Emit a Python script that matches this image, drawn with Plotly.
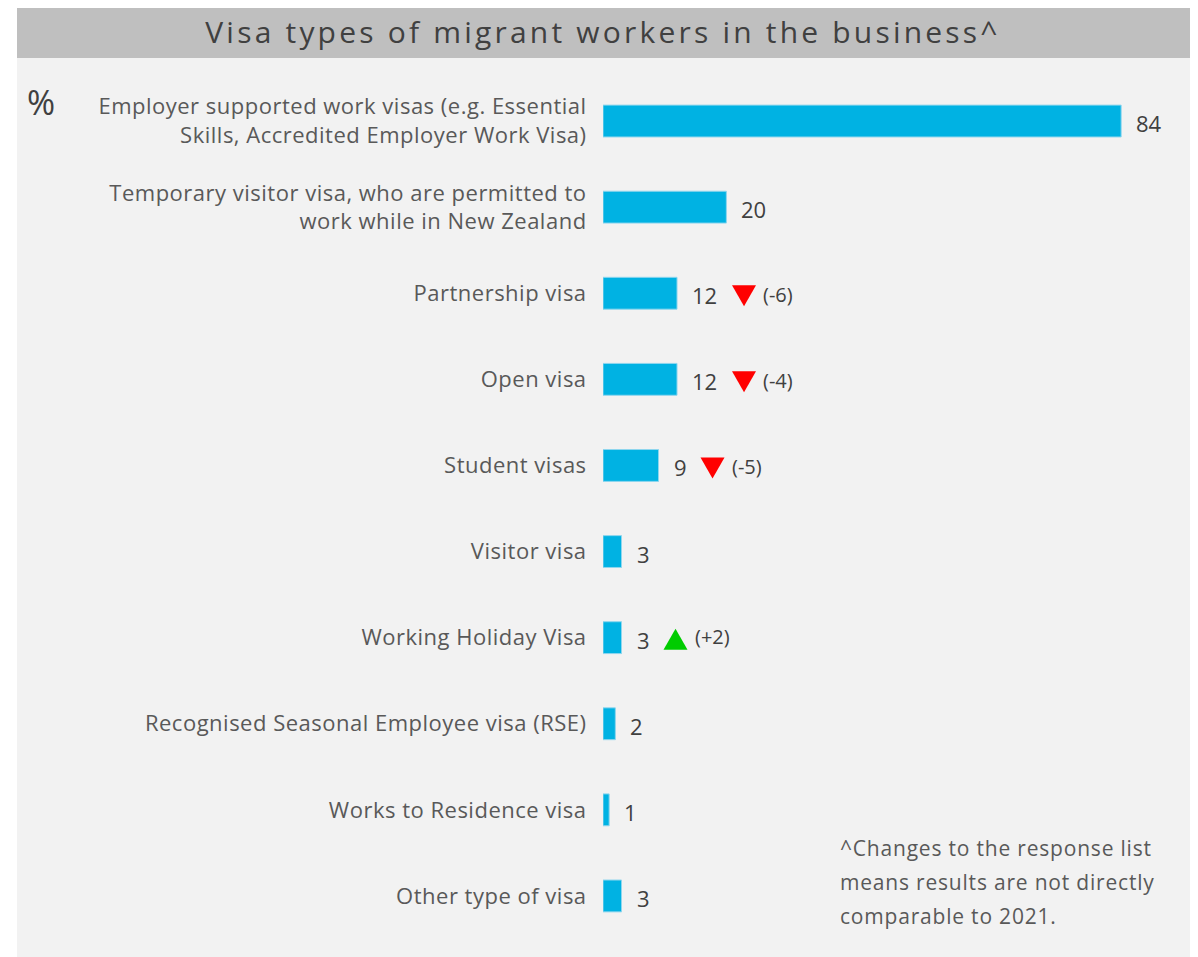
import plotly.graph_objects as go

# data
categories = [
    "Employer supported work visas (e.g. Essential<br>Skills, Accredited Employer Work Visa)",
    "Temporary visitor visa, who are permitted to<br>work while in New Zealand",
    "Partnership visa",
    "Open visa",
    "Student visas",
    "Visitor visa",
    "Working Holiday Visa",
    "Recognised Seasonal Employee visa (RSE)",
    "Works to Residence visa",
    "Other type of visa",
]
values = [84, 20, 12, 12, 9, 3, 3, 2, 1, 3]
changes = [None, None, -6, -4, -5, None, 2, None, None, None]

title_text = "Visa types of migrant workers in the business^"
footnote = [
    "^Changes to the response list",
    "means results are not directly",
    "comparable to 2021.",
]

FONT = "'Open Sans', sans-serif"
BAR = "#00B2E3"
TEXT = "#404040"
LABEL = "#595959"

# the page puts the figure 8px in from the top-left corner
W, H = 1190, 949


def spaced(s, px):
    return "<br>".join(
        f"<span style='letter-spacing:{px}px'>{part}</span>" for part in s.split("<br>")
    )


fig = go.Figure()

fig.add_trace(go.Bar(
    x=values,
    y=categories,
    orientation="h",
    width=0.37,
    marker=dict(color=BAR, line=dict(color="#8fd6ee", width=1)),
    hoverinfo="x",
))

annotations = []
shapes = [
    # grey panel + title band
    dict(type="rect", xref="paper", yref="paper",
         x0=-1.0, x1=1.0068, y0=-0.03, y1=1.2,
         fillcolor="#f2f2f2", line_width=0, layer="below"),
    dict(type="rect", xref="paper", yref="paper",
         x0=-1.0, x1=1.0068, y0=1.0232, y1=1.2,
         fillcolor="#bfbfbf", line_width=0, layer="below"),
]

for cat, v, ch in zip(categories, values, changes):
    annotations.append(dict(
        x=v, y=cat, xref="x", yref="y",
        text=str(v), showarrow=False,
        xanchor="left", yanchor="middle", xshift=13, yshift=-2,
        font=dict(family=FONT, size=22, color=TEXT),
    ))
    if ch is None:
        continue
    tri_x = 15 + 13 * len(str(v)) + 14
    if ch < 0:
        path = f"M{tri_x},8 L{tri_x + 24},8 L{tri_x + 12},-13 Z"
        col = "#ff0000"
    else:
        path = f"M{tri_x},-12 L{tri_x + 24},-12 L{tri_x + 12},9 Z"
        col = "#00cc00"
    shapes.append(dict(
        type="path", xref="x", yref="y",
        xsizemode="pixel", ysizemode="pixel",
        xanchor=v, yanchor=cat, path=path,
        fillcolor=col, line_width=0, layer="above",
    ))
    annotations.append(dict(
        x=v, y=cat, xref="x", yref="y",
        text=f"({ch:+d})", showarrow=False,
        xanchor="left", yanchor="middle", xshift=tri_x + 29, yshift=1 if ch > 0 else -1,
        font=dict(family=FONT, size=20, color=TEXT),
    ))

annotations.append(dict(
    x=-0.959, y=0.972, xref="paper", yref="paper",
    text="%", showarrow=False, xanchor="center", yanchor="middle",
    font=dict(family=FONT, size=34, color=TEXT),
))

for i, line in enumerate(footnote):
    annotations.append(dict(
        x=0.401, y=0.1057, xref="paper", yref="paper",
        text=spaced(line, 0.8), showarrow=False, xanchor="left", yanchor="middle",
        yshift=-34 * i,
        font=dict(family=FONT, size=21, color=LABEL),
    ))

fig.update_layout(
    width=W,
    height=H,
    margin=dict(l=595, r=9, t=70, b=18),
    paper_bgcolor="white",
    plot_bgcolor="#f2f2f2",
    showlegend=False,
    title=dict(
        text=spaced(title_text, 3.2),
        x=0.5, y=1 - 24 / H, xanchor="center", yanchor="middle",
        font=dict(family=FONT, size=30, color=TEXT),
    ),
    shapes=shapes,
    annotations=annotations,
    xaxis=dict(range=[0, 95], visible=False, fixedrange=True),
    yaxis=dict(
        categoryorder="array", categoryarray=categories,
        autorange="reversed",
        tickvals=categories,
        ticktext=[spaced(c, 0.5) for c in categories],
        ticks="outside", ticklen=11, tickcolor="rgba(0,0,0,0)",
        showline=False, showgrid=False, zeroline=False,
        tickfont=dict(family=FONT, size=22, color=LABEL),
    ),
)

fig.write_html("out.html")
